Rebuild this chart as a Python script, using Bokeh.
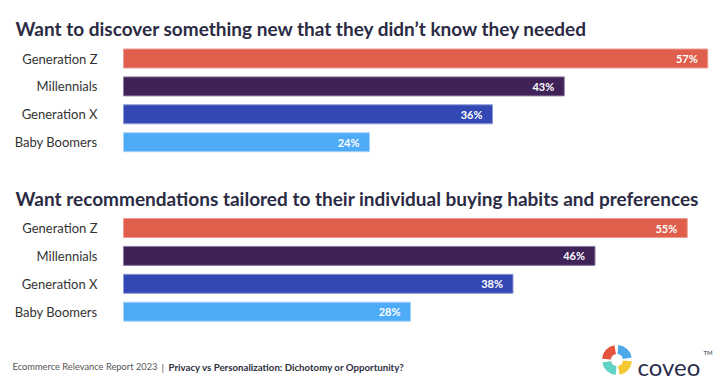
from bokeh.plotting import figure
from bokeh.models import ColumnDataSource, Range1d
from bokeh.embed import file_html
from bokeh.resources import INLINE
from bokeh.core.properties import value

groups = ["Generation Z", "Millennials", "Generation X", "Baby Boomers"]
discover = [57, 43, 36, 24]
tailored = [55, 46, 38, 28]
title1 = "Want to discover something new that they didn\u2019t know they needed"
title2 = "Want recommendations tailored to their individual buying habits and preferences"
colors = ["#DF5E4C", "#3E2258", "#3348B5", "#4EABF7"]
edges = ["#EE9C92", "#8C7A9E", "#8F9AD6", "#A6D3FA"]
footer_left = "Ecommerce Relevance Report 2023"
footer_sep = "|"
footer_right = "Privacy vs Personalization: Dichotomy or Opportunity?"
brand = "coveo"
brand_colors = ["#E4533C", "#4DA9EA", "#62D3C2", "#F4C832"]

W, H = 727, 386
LEFT = 123            # px from canvas left to the zero of the value axis
PX_PER_PCT = 10.25
PITCH = 27.9          # px between bar rows
BAR_H = 19

x0 = -LEFT / PX_PER_PCT
x1 = (W - LEFT) / PX_PER_PCT

p = figure(width=W, height=H, x_range=Range1d(x0, x1), y_range=Range1d(0, H),
           output_backend="svg", toolbar_location=None, min_border=0)
p.axis.visible = False
p.grid.visible = False
p.outline_line_color = None


def panel(title, values, title_y, first_y):
    ys = [first_y - i * PITCH for i in range(len(groups))]
    src = ColumnDataSource(dict(
        g=groups, v=values, y=ys, c=colors, e=edges,
        zero=[0] * len(groups), lab=[f"{v}%" for v in values]))
    p.hbar(y="y", right="v", left=0, height=BAR_H, source=src,
           fill_color="c", line_color="e", line_width=1)
    p.text(x="v", y="y", text="lab", source=src, x_offset=-10,
           text_align="right", text_baseline="middle",
           text_color="white", text_font=value("Lato"),
           text_font_style="bold", text_font_size="11px")
    p.text(x="zero", y="y", text="g", source=src, x_offset=-26,
           text_align="right", text_baseline="middle",
           text_color="#333333", text_font=value("Lato"),
           text_font_size="13px")
    p.text(x=[0], y=[title_y], text=[title], x_offset=-108,
           text_align="left", text_baseline="alphabetic",
           text_color="#2B2B44", text_font=value("Lato"),
           text_font_style="bold", text_font_size="19px")


panel(title1, discover, 358.5, 328)
panel(title2, tailored, 188.5, 158.5)

# footer
p.text(x=[0], y=[20], text=[footer_left], x_offset=-111, text_font=value("Lato"),
       text_font_size="9.3px", text_color="#555555", text_baseline="middle")
p.text(x=[0], y=[20], text=[footer_sep], x_offset=38, text_font=value("Lato"),
       text_font_size="10px", text_color="#555555", text_baseline="middle")
p.text(x=[0], y=[20], text=[footer_right], x_offset=45, text_font=value("Lato"),
       text_font_style="bold", text_font_size="9.7px", text_color="#2E2E3E",
       text_baseline="middle")

# coveo logo
cx, cy = 493.5 / PX_PER_PCT, 26.5
starts = [100, 10, 190, 280]
p.annular_wedge(x=[cx] * 4, y=[cy] * 4, inner_radius=6 / PX_PER_PCT,
                outer_radius=15 / PX_PER_PCT,
                start_angle=starts, end_angle=[s + 75 for s in starts],
                start_angle_units="deg", end_angle_units="deg",
                fill_color=brand_colors, line_color=None)
p.text(x=[0], y=[20], text=[brand], x_offset=514, text_font=value("Lato"),
       text_font_size="24px", text_color="#2C2D4E", text_baseline="alphabetic")
p.text(x=[0], y=[34], text=["TM"], x_offset=580, text_font=value("Lato"),
       text_font_size="6px", text_color="#2C2D4E", text_baseline="middle")

open("out.html", "w").write(file_html(p, INLINE))
